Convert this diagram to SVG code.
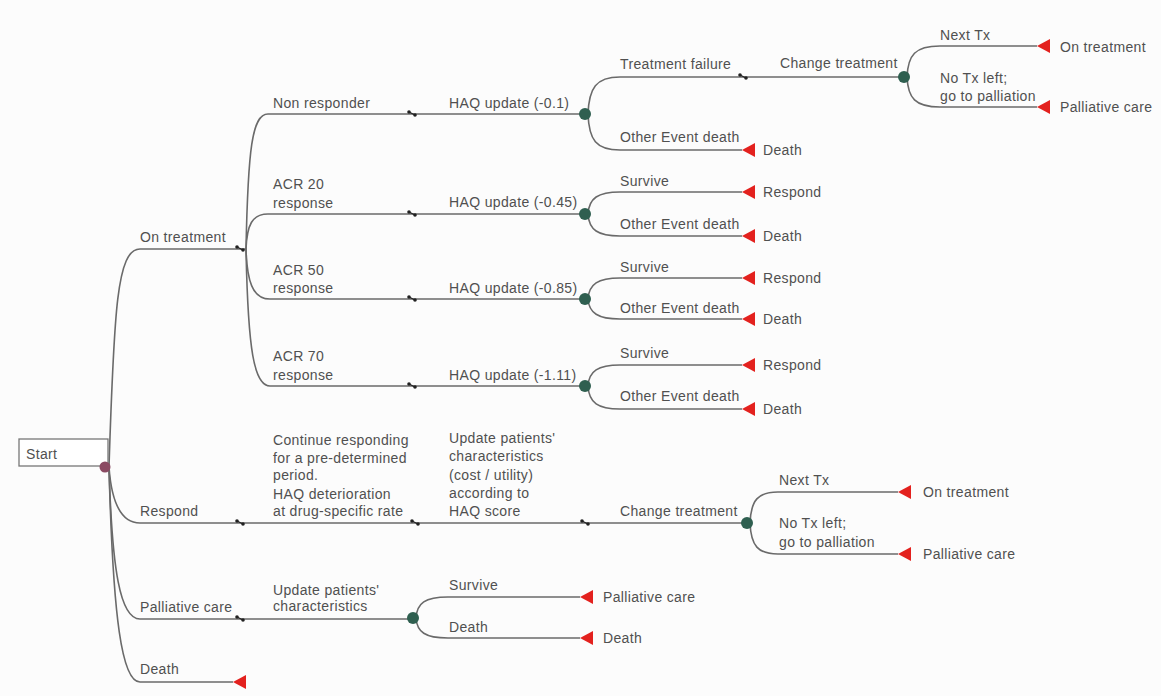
<svg xmlns="http://www.w3.org/2000/svg" width="1161" height="696" viewBox="0 0 1161 696">
<style>
  .ln{fill:none;stroke:#6a6a6a;stroke-width:1.6}
  text{font-family:"Liberation Sans",Arial,sans-serif;font-size:14px;fill:#505050;letter-spacing:0.35px}
  .term{fill:#e3211e}
  .chance{fill:#2f5f50}
  .mk circle{fill:#222}
  .mk path{stroke:#222;stroke-width:1.3}
</style>
<defs>
  <g id="mark" class="mk"><circle cx="-3" cy="-2" r="1.8"/><circle cx="3" cy="1" r="1.8"/><path d="M-3,-2 L3,1"/></g>
  <path id="tri" d="M0,0 L13,-7 L13,7 Z"/>
</defs>
<rect width="1161" height="696" fill="#fcfcfc"/>

<g id="connectors">
  <!-- start branches -->
  <path class="ln" d="M109,467 C114,310 117,249 140,249 L246,249"/>
  <path class="ln" d="M109,467 C111,495 118,523 140,523 L747,523"/>
  <path class="ln" d="M109,467 C112,570 120,619 140,619 L413,619"/>
  <path class="ln" d="M109,467 C113,620 122,682 140,682 L233,682"/>
  <!-- on treatment branches -->
  <path class="ln" d="M246,249 C248,150 252,114 268,114 L585,114"/>
  <path class="ln" d="M246,249 C247,225 252,214 268,214 L585,214"/>
  <path class="ln" d="M246,249 C247,280 252,299 270,299 L585,299"/>
  <path class="ln" d="M246,249 C248,350 254,386 270,386 L585,386"/>
  <!-- row 1 -->
  <path class="ln" d="M588,114 C589,88 596,77 620,77 L904,77"/>
  <path class="ln" d="M588,114 C589,140 596,150 620,150 L742,150"/>
  <path class="ln" d="M907,77 C908,55 915,46 940,46 L1037,46"/>
  <path class="ln" d="M907,77 C908,98 915,107 940,107 L1037,107"/>
  <!-- rows 2-4 -->
  <path class="ln" d="M588,214 C589,198 598,192 620,192 L742,192"/>
  <path class="ln" d="M588,214 C589,230 598,236 620,236 L742,236"/>
  <path class="ln" d="M588,299 C589,284 598,278 620,278 L742,278"/>
  <path class="ln" d="M588,299 C589,313 598,319 620,319 L742,319"/>
  <path class="ln" d="M588,386 C589,371 598,365 620,365 L742,365"/>
  <path class="ln" d="M588,386 C589,403 598,409 620,409 L742,409"/>
  <!-- respond -->
  <path class="ln" d="M750,523 C751,500 758,492 778,492 L898,492"/>
  <path class="ln" d="M750,523 C751,546 758,554 778,554 L898,554"/>
  <!-- palliative -->
  <path class="ln" d="M416,618 C417,603 425,597 448,597 L580,597"/>
  <path class="ln" d="M416,618 C417,632 425,638 448,638 L580,638"/>
  <!-- small markers -->
  <use href="#mark" x="240" y="249"/>
  <use href="#mark" x="412" y="114"/>
  <use href="#mark" x="412" y="214"/>
  <use href="#mark" x="412" y="299"/>
  <use href="#mark" x="412" y="386"/>
  <use href="#mark" x="743" y="77"/>
  <use href="#mark" x="240" y="523"/>
  <use href="#mark" x="415" y="523"/>
  <use href="#mark" x="585" y="523"/>
  <use href="#mark" x="240" y="619"/>
</g>

<g id="start">
  <rect x="19" y="439" width="89" height="27" fill="#fff" stroke="#777" stroke-width="1.3"/>
  <text x="26" y="459">Start</text>
  <circle cx="105" cy="467" r="5.5" fill="#8a4a62"/>
</g>

<g id="on-treatment"><text x="140" y="242">On treatment</text></g>
<g id="respond"><text x="140" y="516">Respond</text></g>
<g id="palliative"><text x="140" y="612">Palliative care</text></g>
<g id="death-branch"><text x="140" y="674">Death</text><use href="#tri" x="233" y="682" class="term"/></g>

<g id="non-responder"><text x="273" y="108">Non responder</text></g>
<g id="acr20"><text x="273" y="189">ACR 20</text><text x="273" y="208">response</text></g>
<g id="acr50"><text x="273" y="275">ACR 50</text><text x="273" y="293">response</text></g>
<g id="acr70"><text x="273" y="361">ACR 70</text><text x="273" y="380">response</text></g>

<g id="haq1"><text x="449" y="108">HAQ update (-0.1)</text><circle class="chance" cx="585" cy="114" r="6"/></g>
<g id="haq2"><text x="449" y="207">HAQ update (-0.45)</text><circle class="chance" cx="585" cy="214" r="6"/></g>
<g id="haq3"><text x="449" y="293">HAQ update (-0.85)</text><circle class="chance" cx="585" cy="299" r="6"/></g>
<g id="haq4"><text x="449" y="380">HAQ update (-1.11)</text><circle class="chance" cx="585" cy="386" r="6"/></g>

<g id="row1-outcomes">
  <text x="620" y="69">Treatment failure</text>
  <text x="620" y="142">Other Event death</text>
  <use href="#tri" x="742" y="150" class="term"/><text x="763" y="155">Death</text>
</g>
<g id="change-tx-1">
  <text x="780" y="68">Change treatment</text>
  <circle class="chance" cx="904" cy="77" r="6"/>
  <text x="940" y="40">Next Tx</text>
  <text x="940" y="83">No Tx left;</text>
  <text x="940" y="101">go to palliation</text>
  <use href="#tri" x="1037" y="46" class="term"/><text x="1060" y="52">On treatment</text>
  <use href="#tri" x="1037" y="107" class="term"/><text x="1060" y="112">Palliative care</text>
</g>
<g id="row2-outcomes">
  <text x="620" y="186">Survive</text><text x="620" y="229">Other Event death</text>
  <use href="#tri" x="742" y="192" class="term"/><text x="763" y="197">Respond</text>
  <use href="#tri" x="742" y="236" class="term"/><text x="763" y="241">Death</text>
</g>
<g id="row3-outcomes">
  <text x="620" y="272">Survive</text><text x="620" y="313">Other Event death</text>
  <use href="#tri" x="742" y="278" class="term"/><text x="763" y="283">Respond</text>
  <use href="#tri" x="742" y="319" class="term"/><text x="763" y="324">Death</text>
</g>
<g id="row4-outcomes">
  <text x="620" y="358">Survive</text><text x="620" y="401">Other Event death</text>
  <use href="#tri" x="742" y="365" class="term"/><text x="763" y="370">Respond</text>
  <use href="#tri" x="742" y="409" class="term"/><text x="763" y="414">Death</text>
</g>

<g id="continue-responding">
  <text x="273" y="445">Continue responding</text>
  <text x="273" y="463">for a pre-determined</text>
  <text x="273" y="480">period.</text>
  <text x="273" y="499">HAQ deterioration</text>
  <text x="273" y="516">at drug-specific rate</text>
</g>
<g id="update-characteristics">
  <text x="449" y="443">Update patients'</text>
  <text x="449" y="461">characteristics</text>
  <text x="449" y="480">(cost / utility)</text>
  <text x="449" y="498">according to</text>
  <text x="449" y="516">HAQ score</text>
</g>
<g id="change-tx-2">
  <text x="620" y="516">Change treatment</text>
  <circle class="chance" cx="747" cy="523" r="6"/>
  <text x="779" y="485">Next Tx</text>
  <text x="779" y="528">No Tx left;</text>
  <text x="779" y="547">go to palliation</text>
  <use href="#tri" x="898" y="492" class="term"/><text x="923" y="497">On treatment</text>
  <use href="#tri" x="898" y="554" class="term"/><text x="923" y="559">Palliative care</text>
</g>
<g id="palliative-update">
  <text x="273" y="595">Update patients'</text>
  <text x="273" y="611">characteristics</text>
  <circle class="chance" cx="413" cy="618" r="6"/>
  <text x="449" y="590">Survive</text>
  <text x="449" y="632">Death</text>
  <use href="#tri" x="580" y="597" class="term"/><text x="603" y="602">Palliative care</text>
  <use href="#tri" x="580" y="638" class="term"/><text x="603" y="643">Death</text>
</g>
</svg>
